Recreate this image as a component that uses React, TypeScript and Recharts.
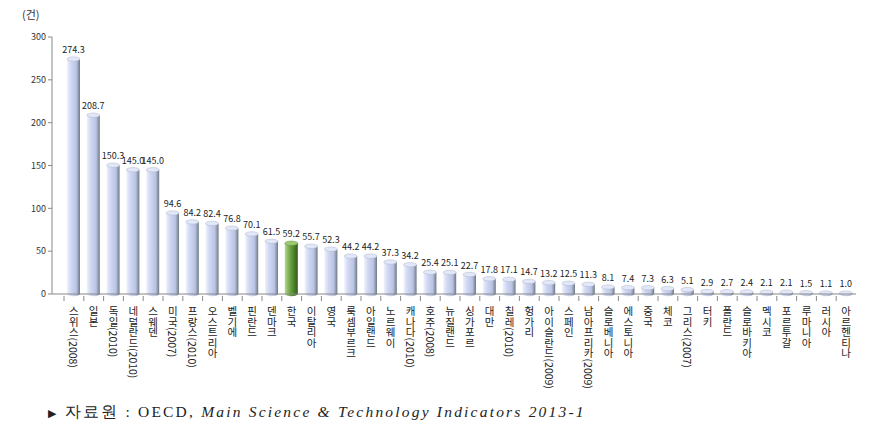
import React from 'react';
import { BarChart, Bar, XAxis, YAxis, LabelList, Cell } from 'recharts';

const countries = [
  '스위스(2008)', '일본', '독일(2010)', '네덜란드(2010)', '스웨덴', '미국(2007)', '프랑스(2010)', '오스트리아',
  '벨기에', '핀란드', '덴마크', '한국', '이탈리아', '영국', '룩셈부르크', '아일랜드', '노르웨이', '캐나다(2010)',
  '호주(2008)', '뉴질랜드', '싱가포르', '대만', '칠레(2010)', '헝가리', '아이슬란드(2009)', '스페인',
  '남아프리카(2009)', '슬로베니아', '에스토니아', '중국', '체코', '그리스(2007)', '터키', '폴란드', '슬로바키아',
  '멕시코', '포르투갈', '루마니아', '러시아', '아르헨티나',
];

const values = [
  274.3, 208.7, 150.3, 145.0, 145.0, 94.6, 84.2, 82.4, 76.8, 70.1, 61.5, 59.2, 55.7, 52.3, 44.2, 44.2, 37.3, 34.2,
  25.4, 25.1, 22.7, 17.8, 17.1, 14.7, 13.2, 12.5, 11.3, 8.1, 7.4, 7.3, 6.3, 5.1, 2.9, 2.7, 2.4, 2.1, 2.1, 1.5, 1.1, 1.0,
];

const yTicks = [0, 50, 100, 150, 200, 250, 300];
const highlight = '한국';

const data = countries.map((name, i) => ({ name, value: values[i] }));

const CHART_W = 880;
const MARGIN = { top: 37, right: 24, left: 0, bottom: 6 };
const Y_W = 52;
const PAD_LEFT = 12;
const STEP = (CHART_W - MARGIN.left - MARGIN.right - Y_W - PAD_LEFT) / countries.length;

// cylinder-ish bar: gradient body plus an elliptical cap
const CylinderBar = (props: any) => {
  const { x, y, width, height, payload } = props;
  if (height == null || width == null) return null;
  const green = payload.name === highlight;
  const fill = green ? 'url(#gradGreen)' : 'url(#gradBlue)';
  const ry = 2.2;
  return (
    <g>
      <rect x={x} y={y} width={width} height={height} fill={fill} />
      <ellipse cx={x + width / 2} cy={y + height} rx={width / 2} ry={ry} fill={fill} />
      <ellipse cx={x + width / 2} cy={y} rx={width / 2} ry={ry} fill={green ? '#9ccc72' : '#e3e8f8'} stroke={green ? '#5f8f3c' : '#aab3cc'} strokeWidth={0.5} />
    </g>
  );
};

const CategoryTick = (props: any) => {
  const { x, y, payload } = props;
  return (
    <g transform={`translate(${x},${y})`}>
      <line x1={-STEP / 2} y1={-6} x2={-STEP / 2} y2={-1} stroke="#888" />
      <text
        x={0}
        y={4}
        fontSize={10.5}
        fill="#222"
        fontFamily="'Noto Sans CJK KR', sans-serif"
        style={{ writingMode: 'vertical-rl' as any }}
      >
        {payload.value}
      </text>
    </g>
  );
};

export default function App() {
  return (
    <div style={{ position: 'absolute', left: 0, top: 0, width: 880, height: 435, background: '#fff', fontFamily: "'Noto Sans CJK KR', sans-serif" }}>
      <div style={{ position: 'absolute', left: 22, top: 6, fontSize: 11, color: '#333' }}>(건)</div>
      <BarChart width={CHART_W} height={400} data={data} margin={MARGIN} barCategoryGap={0}>
        <defs>
          <linearGradient id="gradBlue" x1="0" y1="0" x2="1" y2="0">
            <stop offset="0%" stopColor="#f0f3fc" />
            <stop offset="30%" stopColor="#d0d8f3" />
            <stop offset="72%" stopColor="#bac3e4" />
            <stop offset="100%" stopColor="#6d7b80" />
          </linearGradient>
          <linearGradient id="gradGreen" x1="0" y1="0" x2="1" y2="0">
            <stop offset="0%" stopColor="#b5d990" />
            <stop offset="40%" stopColor="#6ea544" />
            <stop offset="100%" stopColor="#2f5d18" />
          </linearGradient>
        </defs>
        <XAxis
          dataKey="name"
          interval={0}
          height={100}
          tick={<CategoryTick />}
          tickLine={false}
          axisLine={{ stroke: '#888' }}
          padding={{ left: PAD_LEFT, right: 0 }}
        />
        <YAxis
          width={Y_W}
          domain={[0, 300]}
          ticks={yTicks}
          tick={{ fontSize: 9, fill: '#333' }}
          tickLine={{ stroke: '#888' }}
          tickSize={4}
          axisLine={{ stroke: '#888' }}
        />
        <Bar dataKey="value" barSize={13} shape={<CylinderBar />} isAnimationActive={false}>
          {data.map((d) => (
            <Cell key={d.name} />
          ))}
          <LabelList
            dataKey="value"
            position="top"
            offset={6}
            fontSize={9}
            fill="#222"
            formatter={(v: any) => Number(v).toFixed(1)}
          />
        </Bar>
      </BarChart>
      <div style={{ position: 'absolute', left: 48, top: 402, fontSize: 15.5, letterSpacing: 2.2, color: '#222', fontFamily: "'Liberation Serif', 'DejaVu Serif', serif", whiteSpace: 'nowrap' }}>
        <span style={{ fontSize: 11 }}>▶</span> 자료원 : OECD, <i>Main Science &amp; Technology Indicators 2013-1</i>
      </div>
    </div>
  );
}
